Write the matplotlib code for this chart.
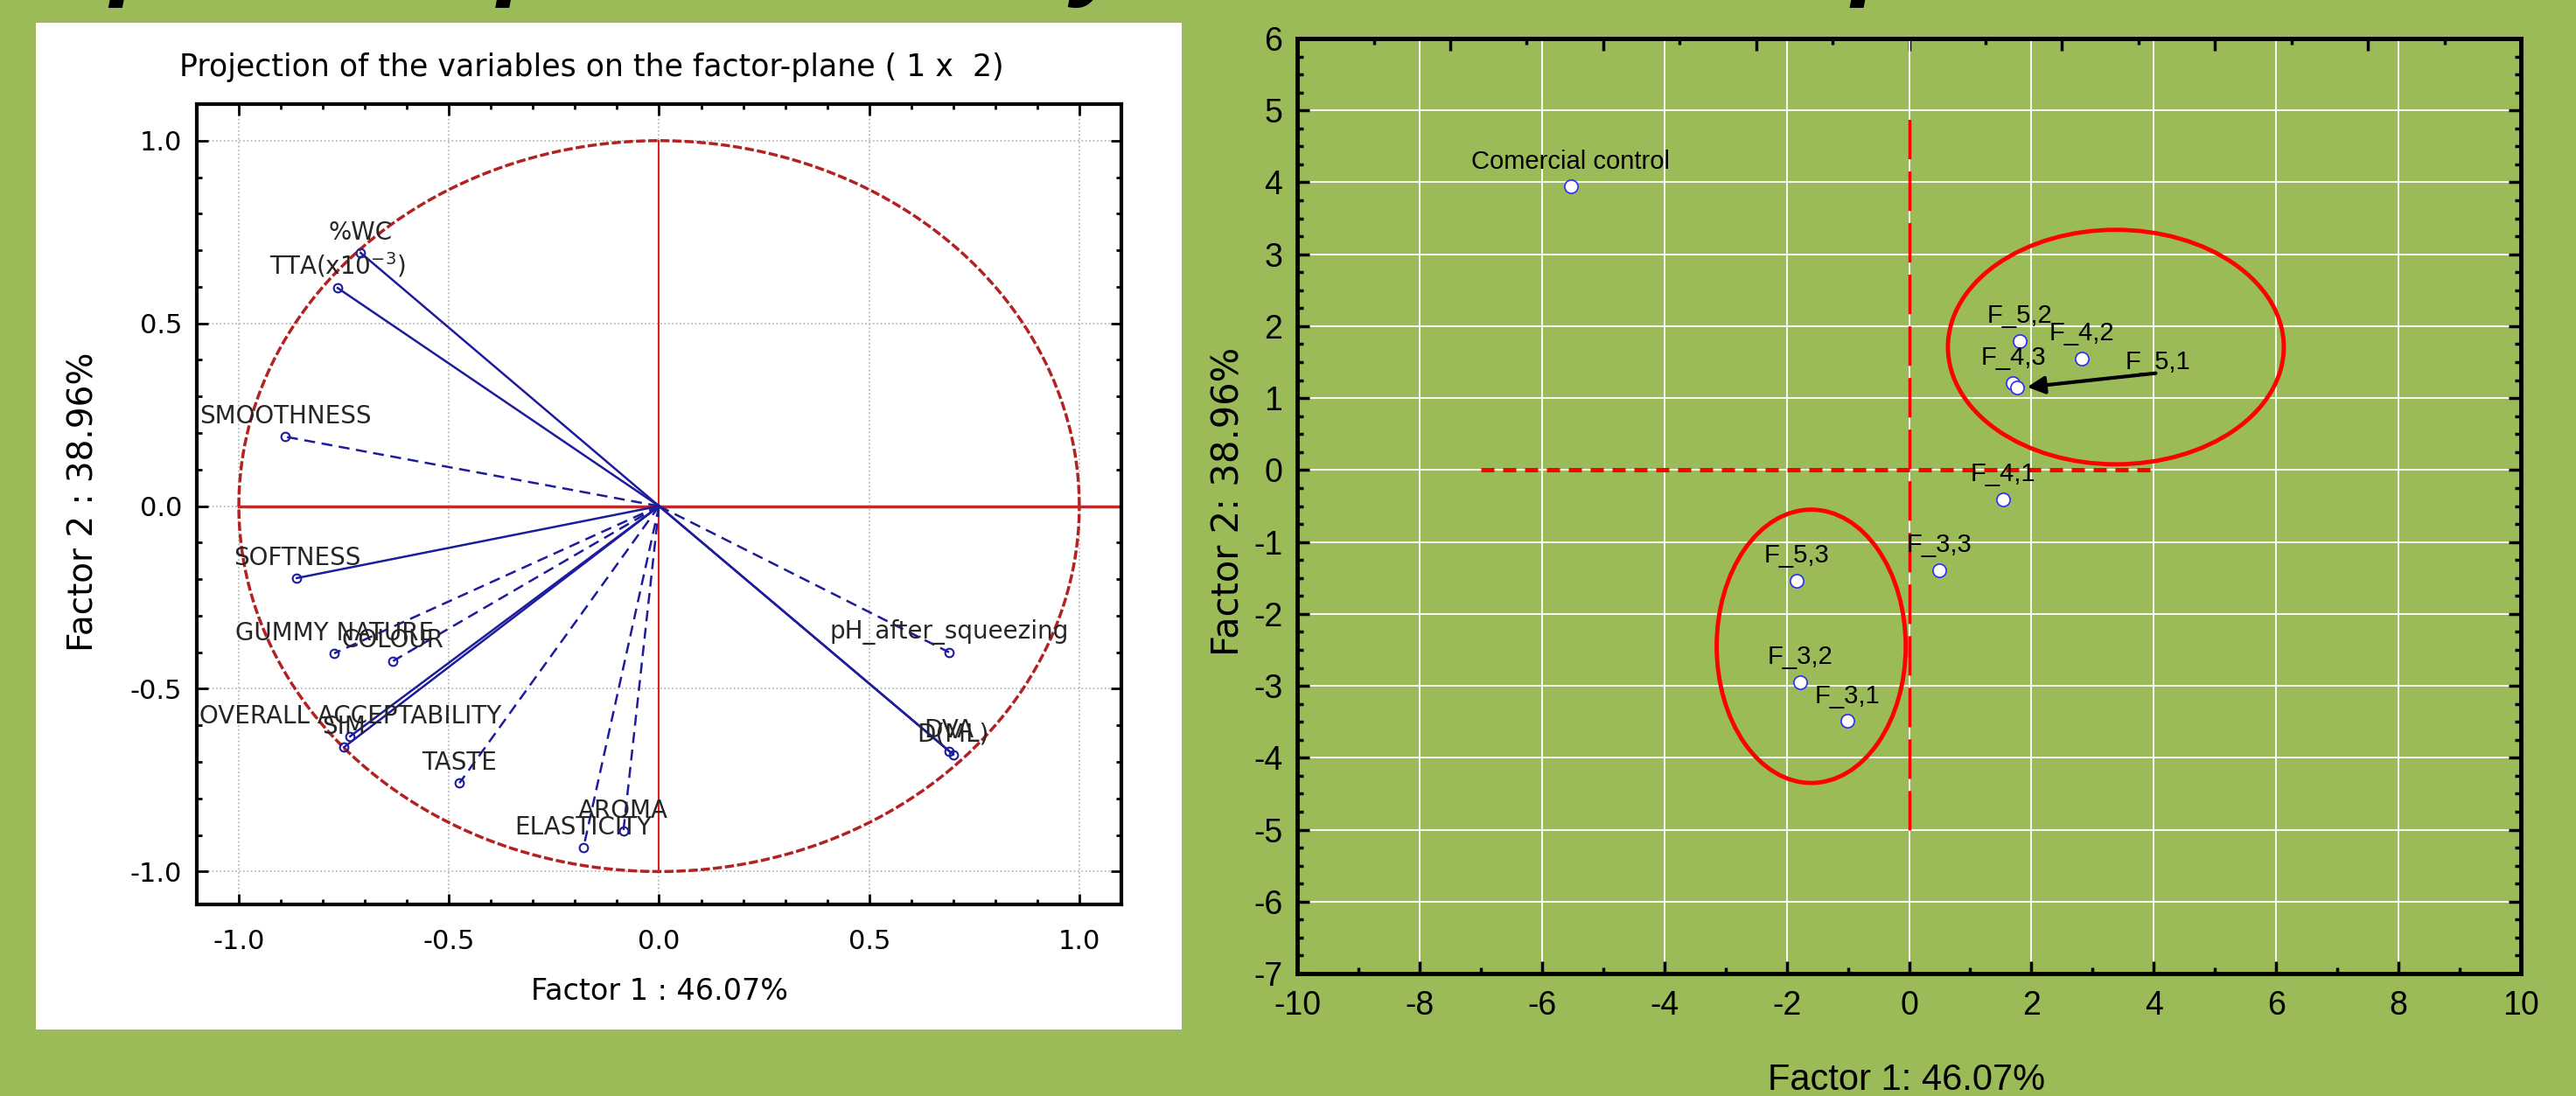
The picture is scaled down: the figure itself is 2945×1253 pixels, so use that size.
import numpy as np
import matplotlib.pyplot as plt
from matplotlib.patches import Ellipse, Rectangle
from matplotlib.ticker import MultipleLocator, FormatStrFormatter

plt.rcParams['axes.unicode_minus'] = False

GREEN = '#9bbb59'
NAVY = '#1c1c9c'

# loadings of the variables (left panel)
var_names = ['%WC', 'TTA(x10$^{-3}$)', 'SMOOTHNESS', 'SOFTNESS', 'GUMMY NATURE', 'COLOUR',
             'OVERALL ACCEPTABILITY', 'SIM', 'TASTE', 'AROMA', 'ELASTICITY',
             'pH_after_squeezing', 'DVA', 'D(ML)']
load_f1 = [-0.71, -0.765, -0.89, -0.862, -0.773, -0.633, -0.735, -0.75, -0.475, -0.085, -0.18, 0.69, 0.69, 0.70]
load_f2 = [0.693, 0.597, 0.19, -0.197, -0.403, -0.424, -0.63, -0.66, -0.758, -0.89, -0.935, -0.40, -0.67, -0.68]
dashed_vars = ['SMOOTHNESS', 'GUMMY NATURE', 'COLOUR', 'TASTE', 'AROMA', 'ELASTICITY', 'pH_after_squeezing']

# scores of the samples (right panel)
sample_names = ['Comercial control', 'F_5,2', 'F_4,2', 'F_4,3', 'F_5,1', 'F_4,1', 'F_3,3', 'F_5,3', 'F_3,2', 'F_3,1']
score_f1 = [-5.53, 1.81, 2.82, 1.70, 1.77, 1.54, 0.49, -1.84, -1.78, -1.01]
score_f2 = [3.94, 1.79, 1.55, 1.21, 1.15, -0.41, -1.39, -1.54, -2.95, -3.49]

W, H = 2945, 1253
fig = plt.figure(figsize=(W / 100, H / 100), dpi=100, facecolor=GREEN)

# slide title, cut off by the top edge: only the descenders show.
# size and start are fitted so the descenders land where they are in the slide
title = 'Principal component analysis for the samples'
desc_idx = [6, 13, 24, 40]          # p, p, y, p
desc_px = [128, 566, 1228, 2118]    # left edge of those letters in the slide
renderer = fig.canvas.get_renderer()
probe = fig.text(0, 0, '', fontsize=82, fontweight='bold', style='italic', family='Liberation Sans')
widths = []
for i in desc_idx:
    probe.set_text(title[:i])
    widths.append(probe.get_window_extent(renderer).width)
probe.remove()
a, x0 = np.polyfit(widths, desc_px, 1)
tsize = 82 * a
em = tsize * 100 / 72
fig.text(x0 / W, 1 + (0.21 * em - 10) / H, title, fontsize=tsize, fontweight='bold',
         style='italic', family='Liberation Sans', va='baseline', ha='left')

# white panel behind the pasted statistica plot
fig.patches.append(Rectangle((0.0139, 0.0607), 0.4448, 0.9186, transform=fig.transFigure,
                             facecolor='white', edgecolor='none', zorder=-5))

# ---- left: projection of the variables ----
ax1 = fig.add_axes([0.0764, 0.1748, 0.3589, 0.7302])
ax1.set_facecolor('white')
ax1.set_xlim(-1.1, 1.1)
ax1.set_ylim(-1.09, 1.1)

t = np.linspace(0, 2 * np.pi, 500)
ax1.plot(np.cos(t), np.sin(t), color='#b22222', lw=2.5, ls=(0, (3, 1)), zorder=2)
ax1.plot([-1, 1.1], [0, 0], color='#c0282a', lw=2.5, zorder=2)
ax1.plot([0, 0], [-1, 1], color='#e02020', lw=1.5, zorder=2)

for name, x, y in zip(var_names, load_f1, load_f2):
    ls = (0, (5, 3)) if name in dashed_vars else '-'
    ax1.plot([0, x], [0, y], color=NAVY, lw=1.8, ls=ls, zorder=3)
    ax1.annotate(name, (x, y), xytext=(0, 11), textcoords='offset points', ha='center',
                 va='baseline', fontsize=20, color='#262626', family='DejaVu Sans',
                 clip_on=True, zorder=4)
ax1.plot(load_f1, load_f2, 'o', mfc='none', mec=NAVY, ms=7, mew=1.5, zorder=4)

ax1.xaxis.set_major_locator(MultipleLocator(0.5))
ax1.xaxis.set_minor_locator(MultipleLocator(0.1))
ax1.yaxis.set_major_locator(MultipleLocator(0.5))
ax1.yaxis.set_minor_locator(MultipleLocator(0.1))
ax1.xaxis.set_major_formatter(FormatStrFormatter('%.1f'))
ax1.yaxis.set_major_formatter(FormatStrFormatter('%.1f'))
ax1.tick_params(which='both', direction='in', top=True, right=True, width=2, color='black')
ax1.tick_params(which='major', length=9)
ax1.tick_params(which='minor', length=4)
ax1.tick_params(axis='x', pad=20, labelsize=22)
ax1.tick_params(axis='y', pad=12, labelsize=22)
for lab in ax1.get_xticklabels() + ax1.get_yticklabels():
    lab.set_family('DejaVu Sans')
ax1.grid(True, which='major', color='#b0b0b0', ls=':', lw=1.2)
for s in ax1.spines.values():
    s.set_linewidth(3)
fig.text(0.2295, 0.9385, 'Projection of the variables on the factor-plane ( 1 x  2)', fontsize=25,
         family='DejaVu Sans', ha='center', va='center')
fig.text(0.256, 0.095, 'Factor 1 : 46.07%', fontsize=24, family='DejaVu Sans', ha='center', va='center')
fig.text(0.0323, 0.542, 'Factor 2 : 38.96%', fontsize=28, family='DejaVu Sans', ha='center',
         va='center', rotation=90)

# ---- right: scores plot ----
ax2 = fig.add_axes([0.5036, 0.1117, 0.4750, 0.8532])
ax2.set_facecolor(GREEN)
ax2.set_xlim(-10, 10)
ax2.set_ylim(-7, 6)
ax2.xaxis.set_major_locator(MultipleLocator(2))
ax2.xaxis.set_minor_locator(MultipleLocator(1))
ax2.yaxis.set_major_locator(MultipleLocator(1))
ax2.yaxis.set_minor_locator(MultipleLocator(0.25))
ax2.grid(True, which='major', color='white', lw=1.3, zorder=0)
ax2.set_axisbelow(True)
ax2.tick_params(which='both', direction='in', top=False, right=True, width=2.5, color='black')
ax2.tick_params(which='major', length=10)
ax2.tick_params(which='minor', length=5)
ax2.tick_params(axis='x', pad=14, labelsize=27)
ax2.tick_params(axis='y', pad=12, labelsize=27)
for lab in ax2.get_xticklabels() + ax2.get_yticklabels():
    lab.set_family('Liberation Sans')
for s in ax2.spines.values():
    s.set_linewidth(3.5)

top = ax2.secondary_xaxis('top')
top.xaxis.set_major_locator(MultipleLocator(2.5))
top.xaxis.set_minor_locator(MultipleLocator(1.25))
top.tick_params(which='both', direction='in', labeltop=False, width=2.5, color='black')
top.tick_params(which='major', length=10)
top.tick_params(which='minor', length=5)
top.spines['top'].set_linewidth(3.5)

ax2.plot([-7, 4], [0, 0], color='red', lw=3.6, dashes=(3, 2), zorder=2)
ax2.plot([0, 0], [-5, 5], color='red', lw=2.5, dashes=(13, 4), zorder=2)
ax2.add_patch(Ellipse((3.38, 1.71), 5.49, 3.26, fill=False, ec='red', lw=3.5, zorder=2))
ax2.add_patch(Ellipse((-1.6, -2.45), 3.09, 3.8, fill=False, ec='red', lw=3.5, zorder=2))

ax2.scatter(score_f1, score_f2, s=120, facecolor='white', edgecolor='#2a2aff', lw=1.2, zorder=4)
for name, x, y in zip(sample_names, score_f1, score_f2):
    if name == 'F_5,1':
        ax2.text(4.07, 1.5, name, fontsize=21, family='Liberation Sans', ha='center', va='center', zorder=5)
        ax2.annotate('', xy=(x + 0.12, y), xytext=(4.07, 1.35),
                     arrowprops=dict(arrowstyle='-|>', lw=3, color='black', mutation_scale=30), zorder=5)
    else:
        ax2.annotate(name, (x, y), xytext=(0, 15), textcoords='offset points', ha='center',
                     va='baseline', fontsize=21, family='Liberation Sans', zorder=5)

fig.text(0.740, 0.0144, 'Factor 1: 46.07%', fontsize=30, family='Liberation Sans', ha='center', va='center')
fig.text(0.477, 0.5427, 'Factor 2: 38.96%', fontsize=30, family='DejaVu Sans', ha='center',
         va='center', rotation=90)

fig.savefig('out.png', dpi=100, facecolor=GREEN)
